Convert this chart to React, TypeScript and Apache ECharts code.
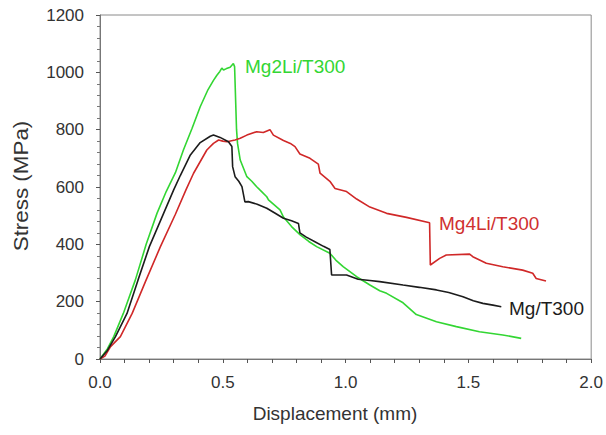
import React, { useEffect, useRef } from "react";
import * as echarts from "echarts";

const xTicks = [0, 0.5, 1.0, 1.5, 2.0];
const yTicks = [0, 200, 400, 600, 800, 1000, 1200];

const seriesNames = ["Mg/T300", "Mg2Li/T300", "Mg4Li/T300"];
const seriesColors = ["#1c1c1c", "#33d633", "#d02828"];

const mgT300: [number, number][] = [
  [0, 0], [0.03, 30], [0.063, 78], [0.11, 159], [0.155, 276], [0.201, 392], [0.259, 508],
  [0.3, 590], [0.327, 640], [0.368, 712], [0.408, 755], [0.449, 777], [0.462, 781],
  [0.489, 773], [0.523, 758], [0.537, 741], [0.54, 671], [0.55, 636], [0.565, 620],
  [0.578, 601], [0.59, 548], [0.604, 549], [0.64, 540], [0.679, 526], [0.71, 510],
  [0.747, 491], [0.78, 482], [0.808, 473], [0.814, 440], [0.84, 425], [0.875, 409],
  [0.91, 393], [0.936, 382], [0.943, 293], [1.004, 293], [1.051, 278], [1.099, 274],
  [1.139, 270], [1.234, 258], [1.3, 250], [1.37, 241], [1.42, 232], [1.478, 217],
  [1.52, 203], [1.559, 194], [1.6, 188], [1.634, 182],
];

const mg2LiT300: [number, number][] = [
  [0, 0], [0.03, 35], [0.056, 78], [0.095, 159], [0.144, 276], [0.188, 400], [0.232, 508],
  [0.27, 585], [0.307, 650], [0.34, 730], [0.375, 805], [0.408, 880], [0.44, 940],
  [0.462, 972], [0.476, 990], [0.488, 1003], [0.496, 1015], [0.503, 1008], [0.515, 1013],
  [0.53, 1018], [0.543, 1031], [0.548, 1020], [0.556, 800], [0.56, 752], [0.571, 694],
  [0.598, 636], [0.618, 620], [0.638, 601], [0.652, 589], [0.679, 566], [0.686, 555],
  [0.733, 520], [0.747, 495], [0.78, 462], [0.814, 434], [0.85, 410], [0.882, 392],
  [0.936, 369], [0.96, 345], [0.99, 322], [1.045, 287], [1.099, 258], [1.139, 238],
  [1.167, 229], [1.234, 196], [1.288, 155], [1.37, 130], [1.451, 113], [1.545, 95],
  [1.64, 84], [1.715, 72],
];

const mg4LiT300: [number, number][] = [
  [0, 0], [0.02, 10], [0.043, 43], [0.083, 78], [0.131, 159], [0.185, 270], [0.246, 392],
  [0.307, 505], [0.35, 590], [0.381, 648], [0.435, 729], [0.462, 752], [0.483, 764],
  [0.5, 760], [0.517, 758], [0.55, 764], [0.571, 770], [0.598, 781], [0.638, 793],
  [0.665, 790], [0.692, 800], [0.706, 781], [0.747, 762], [0.775, 752], [0.794, 741],
  [0.814, 715], [0.855, 700], [0.889, 680], [0.896, 648], [0.936, 620], [0.957, 595],
  [1.004, 584], [1.045, 558], [1.099, 530], [1.167, 508], [1.248, 494], [1.342, 475],
  [1.345, 328], [1.383, 351], [1.41, 363], [1.505, 366], [1.518, 357], [1.573, 334],
  [1.64, 322], [1.721, 310], [1.762, 299], [1.776, 281], [1.816, 272],
];

const seriesData = [mgT300, mg2LiT300, mg4LiT300];

const xAxisName = "Displacement (mm)";
const yAxisName = "Stress (MPa)";

const FONT = "'Liberation Sans', Arial, sans-serif";

export default function App() {
  const ref = useRef<HTMLDivElement>(null);

  useEffect(() => {
    if (!ref.current) return;
    const chart = echarts.init(ref.current, undefined, { renderer: "svg" });
    const left = 100;
    const top = 15;
    const right = 14;
    const bottom = 76;
    const H = 435;
    const plotH = H - top - bottom;

    chart.setOption({
      animation: false,
      backgroundColor: "#ffffff",
      grid: {
        left,
        right,
        top,
        bottom,
        show: true,
        borderColor: "#8a8a8a",
        borderWidth: 1,
        backgroundColor: "transparent",
      },
      xAxis: {
        type: "value",
        min: xTicks[0],
        max: xTicks[xTicks.length - 1],
        interval: 0.5,
        axisLine: { show: true, lineStyle: { color: "#777", width: 1 } },
        axisTick: { show: true, inside: false, length: 4, lineStyle: { color: "#555" } },
        minorTick: { show: true, splitNumber: 5, length: 4, lineStyle: { color: "#555" } },
        splitLine: { show: false },
        axisLabel: {
          color: "#333",
          fontSize: 17,
          fontFamily: FONT,
          margin: 15,
          formatter: (v: number) => v.toFixed(1),
        },
      },
      yAxis: {
        type: "value",
        min: yTicks[0],
        max: yTicks[yTicks.length - 1],
        interval: 200,
        axisLine: { show: true, lineStyle: { color: "#777", width: 1 } },
        axisTick: { show: true, inside: false, length: 4, lineStyle: { color: "#555" } },
        minorTick: { show: true, splitNumber: 5, length: 3, lineStyle: { color: "#777" } },
        splitLine: { show: false },
        axisLabel: {
          color: "#333",
          fontSize: 17,
          fontFamily: FONT,
          margin: 16,
          formatter: (v: number) => String(v),
        },
      },
      series: seriesData.map((d, i) => ({
        name: seriesNames[i],
        type: "line",
        data: d,
        showSymbol: false,
        symbol: "none",
        lineStyle: { color: seriesColors[i], width: 1.6 },
        z: i === 0 ? 4 : 3,
      })),
      graphic: [
        {
          type: "text",
          x: 245,
          y: 66,
          style: {
            text: seriesNames[1],
            fill: "#33d633",
            fontSize: 19,
            fontFamily: FONT,
            align: "left",
            verticalAlign: "middle",
          },
        },
        {
          type: "text",
          x: 439,
          y: 223,
          style: {
            text: seriesNames[2],
            fill: "#d03030",
            fontSize: 19,
            fontFamily: FONT,
            align: "left",
            verticalAlign: "middle",
          },
        },
        {
          type: "text",
          x: 509,
          y: 308,
          style: {
            text: seriesNames[0],
            fill: "#1c1c1c",
            fontSize: 19,
            fontFamily: FONT,
            align: "left",
            verticalAlign: "middle",
          },
        },
        {
          type: "text",
          x: 335,
          y: 413,
          style: {
            text: xAxisName,
            fill: "#333",
            fontSize: 19,
            fontFamily: FONT,
            align: "center",
            verticalAlign: "middle",
          },
        },
        {
          type: "text",
          x: 21,
          y: top + plotH / 2 - 1,
          rotation: Math.PI / 2,
          scaleX: 1.12,
          style: {
            text: yAxisName,
            fill: "#333",
            fontSize: 20,
            fontFamily: FONT,
            align: "center",
            verticalAlign: "middle",
          },
        },
      ],
    });
    return () => chart.dispose();
  }, []);

  return (
    <div
      ref={ref}
      style={{ position: "fixed", left: 0, top: 0, width: 606, height: 435, background: "#fff" }}
    />
  );
}
